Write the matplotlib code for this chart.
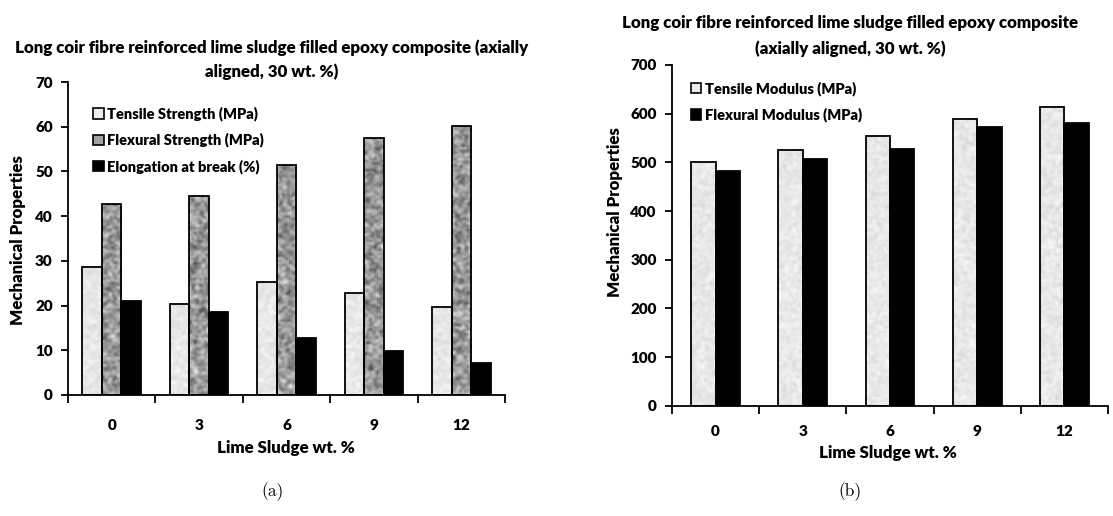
import numpy as np
import matplotlib
matplotlib.use("Agg")
import matplotlib.pyplot as plt
from matplotlib.patches import Patch

plt.rcParams["font.family"] = "Lato"
plt.rcParams["font.weight"] = "heavy"
plt.rcParams["axes.linewidth"] = 1.3

lime_sludge = ["0", "3", "6", "9", "12"]

# panel (a): strengths and elongation
tensile_strength = [28.7, 20.3, 25.2, 22.7, 19.6]
flexural_strength = [42.7, 44.4, 51.5, 57.4, 60.2]
elongation = [21.1, 18.5, 12.8, 9.8, 7.2]

# panel (b): moduli
tensile_modulus = [500, 525, 554, 590, 614]
flexural_modulus = [482, 507, 528, 572, 580]

title_a = ["Long coir fibre reinforced lime sludge filled epoxy composite (axially",
           "aligned, 30 wt. %)"]
title_b = ["Long coir fibre reinforced lime sludge filled epoxy composite",
           "(axially aligned, 30 wt. %)"]

rng = np.random.default_rng(7)
TXT = 12.2
LEG = 10.5


def textured_bars(ax, x, heights, width, fill, spread):
    # outlined bars, each filled with a grainy grey image clipped to the bar
    bars = ax.bar(x, heights, width, facecolor="none", edgecolor="black",
                  linewidth=1.3, zorder=3)
    for b in bars:
        x0, w, h = b.get_x(), b.get_width(), b.get_height()
        if fill is None:
            b.set_facecolor("black")
            continue
        (px0, py0), (px1, py1) = ax.transData.transform([(x0, 0), (x0 + w, h)])
        rows = max(int(abs(py1 - py0) / 2.2), 2)
        cols = max(int(abs(px1 - px0) / 2.2), 2)
        img = np.clip(fill + spread * rng.standard_normal((rows, cols)), 0, 1)
        im = ax.imshow(img, extent=[x0, x0 + w, 0, h], cmap="gray",
                       vmin=0, vmax=1, aspect="auto", interpolation="bicubic",
                       zorder=2)
        im.set_clip_path(b)
    return bars


def style_axes(ax, ymax, ystep, label_pad):
    ax.spines["top"].set_visible(False)
    ax.spines["right"].set_visible(False)
    ax.set_xlim(-0.5, 4.5)
    ax.set_ylim(0, ymax)
    ax.set_yticks(np.arange(0, ymax + ystep, ystep))
    ax.set_xticks(np.arange(-0.5, 5, 1))
    ax.set_xticklabels([])
    ax.set_xticks(np.arange(5), minor=True)
    ax.set_xticklabels(lime_sludge, minor=True)
    ax.tick_params(axis="x", which="major", length=6, width=1.3, direction="out")
    ax.tick_params(axis="x", which="minor", length=0, pad=label_pad, labelsize=11)
    ax.tick_params(axis="y", length=5, width=1.3, pad=6, labelsize=11)


fig = plt.figure(figsize=(11.13, 5.16), dpi=100)
W, H = 1113, 516
x = np.arange(len(lime_sludge))

# ---- panel (a)
ax1 = fig.add_axes([68 / W, 1 - 395 / H, (505 - 68) / W, (395 - 82) / H])
style_axes(ax1, 70, 10, 17)
bw = 0.223
textured_bars(ax1, x - bw, tensile_strength, bw, 0.91, 0.04)
textured_bars(ax1, x, flexural_strength, bw, 0.60, 0.16)
textured_bars(ax1, x + bw, elongation, bw, None, 0)

handles_a = [Patch(facecolor="#ececec", edgecolor="black", linewidth=1.2),
             Patch(facecolor="#a0a0a0", edgecolor="black", linewidth=1.2),
             Patch(facecolor="black", edgecolor="black", linewidth=1.2)]
ax1.legend(handles_a, ["Tensile Strength (MPa)", "Flexural Strength (MPa)",
                       "Elongation at break (%)"],
           loc="upper left", bbox_to_anchor=(0.045, 0.94), frameon=False,
           fontsize=LEG, handlelength=0.7, handleheight=0.7, handletextpad=0.25,
           labelspacing=0.8, borderaxespad=0)

for line, y in zip(title_a, [48, 72]):
    fig.text(272 / W, 1 - y / H, line, ha="center", va="center", fontsize=TXT)
fig.text(18 / W, 1 - 240 / H, "Mechanical Properties", rotation=90,
         ha="center", va="center", fontsize=TXT)
fig.text(286 / W, 1 - 448 / H, "Lime Sludge wt. %", ha="center",
         va="center", fontsize=TXT)

# ---- panel (b)
ax2 = fig.add_axes([672 / W, 1 - 405.7 / H, (1108 - 672) / W, (405.7 - 65) / H])
style_axes(ax2, 700, 100, 14)
bw2 = 0.28
textured_bars(ax2, x - bw2 / 2, tensile_modulus, bw2, 0.91, 0.04)
textured_bars(ax2, x + bw2 / 2, flexural_modulus, bw2, None, 0)

handles_b = [Patch(facecolor="#ececec", edgecolor="black", linewidth=1.2),
             Patch(facecolor="black", edgecolor="black", linewidth=1.2)]
ax2.legend(handles_b, ["Tensile Modulus (MPa)", "Flexural Modulus (MPa)"],
           loc="upper left", bbox_to_anchor=(0.03, 0.97), frameon=False,
           fontsize=LEG, handlelength=0.7, handleheight=0.7, handletextpad=0.25,
           labelspacing=0.82, borderaxespad=0)

for line, y in zip(title_b, [23, 49]):
    fig.text(850 / W, 1 - y / H, line, ha="center", va="center", fontsize=TXT)
fig.text(615 / W, 1 - 212 / H, "Mechanical Properties", rotation=90,
         ha="center", va="center", fontsize=TXT)
fig.text(888 / W, 1 - 453 / H, "Lime Sludge wt. %", ha="center",
         va="center", fontsize=TXT)

# sub-figure captions
fig.text(273 / W, 1 - 492 / H, "(a)", ha="center", va="center",
         fontfamily="cmr10", fontweight="normal", fontsize=12.5)
fig.text(850 / W, 1 - 492 / H, "(b)", ha="center", va="center",
         fontfamily="cmr10", fontweight="normal", fontsize=12.5)

fig.savefig("out.png", dpi=100)
